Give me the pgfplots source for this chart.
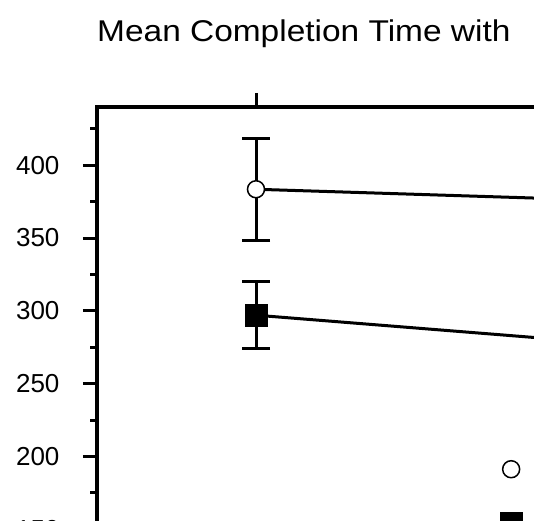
\documentclass[border=0pt]{standalone}
\usepackage{fontspec}
\setmainfont{Liberation Sans}
\usepackage{pgfplots}
\pgfplotsset{compat=1.18}

\begin{document}
\begin{tikzpicture}
% the reference shows only the upper left part of the chart
\useasboundingbox (-97pt,82pt) rectangle (437pt,602pt);
\clip (-97pt,82pt) rectangle (437pt,602pt);
\begin{pgfinterruptboundingbox}
\begin{axis}[
  scale only axis, width=636pt, height=495pt,
  xmin=0.5, xmax=2.5, ymin=100, ymax=440,
  axis line style={line width=4pt},
  xtick={1,2}, xticklabels={}, xtick pos=right,
  ytick={150,200,...,400}, ytick pos=left,
  minor ytick={125,175,...,425},
  tick align=outside,
  major tick length=14pt, minor tick length=7pt,
  tick style={line width=3pt, black},
  /pgf/number format/assume math mode=true,
  yticklabel style={font=\fontsize{26}{26}\selectfont, xshift=-20pt},
  title={\scalebox{1.115}[1]{Mean Completion Time with}},
  title style={at={(axis description cs:0,1.1198)}, anchor=base west,
               inner sep=0pt, font=\fontsize{30}{36}\selectfont},
  legend image code/.code={\path[draw=none, fill=none] (-12pt,-12pt) rectangle (12pt,12pt);
                           \draw[#1] plot coordinates {(0pt,0pt)};},
  legend style={at={(axis description cs:0.632,0.2929)}, anchor=north west,
                draw=none, fill=none, inner sep=0pt, nodes={inner sep=0pt},
                row sep=30.5pt},
]
\addplot[black, line width=3pt, mark=*,
         mark options={fill=white, draw=black, line width=1.5pt, mark size=8.5pt},
         error bars/.cd, y dir=both, y explicit,
         error bar style={line width=3pt},
         error mark options={rotate=90, mark size=14pt, line width=3pt}]
  coordinates {(1,383.5) +- (0,35) (2,376.6) +- (0,35)};
\addlegendentry{}
\addplot[black, line width=3pt, mark=square*,
         mark options={fill=black, draw=black, line width=1pt, mark size=11pt},
         error bars/.cd, y dir=both, y explicit,
         error bar style={line width=3pt},
         error mark options={rotate=90, mark size=14pt, line width=3pt}]
  coordinates {(1,297) +- (0,23) (2,279.5) +- (0,23)};
\addlegendentry{}
\end{axis}
\end{pgfinterruptboundingbox}
\end{tikzpicture}
\end{document}
